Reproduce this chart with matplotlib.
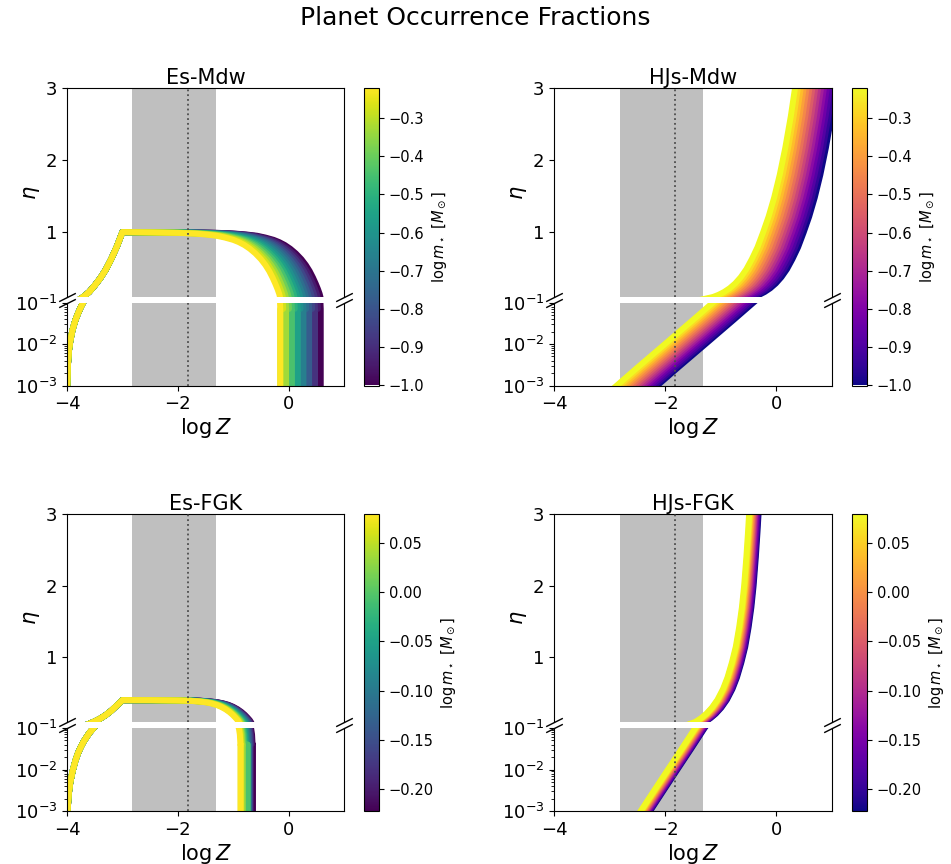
import numpy as np
import matplotlib
matplotlib.use('Agg')
import matplotlib.pyplot as plt
from matplotlib import colors, cm

# stellar masses (log m, Msun) of the drawn curves, low mass first
logm_mdw = [-1.0, -0.944, -0.889, -0.833, -0.778, -0.722, -0.667, -0.611,
            -0.556, -0.5, -0.444, -0.389, -0.333, -0.278, -0.222]
logm_fgk = [-0.222, -0.200, -0.179, -0.157, -0.136, -0.114, -0.093, -0.071,
            -0.050, -0.028, -0.007, 0.015, 0.036, 0.058, 0.079]
cbar_mdw = (-1.0, -0.2218)
cbar_fgk = (-0.2218, 0.0792)

# solar metallicity and the shaded range
logz_sun = -1.818
logz_band = (-2.818, -1.318)

# Es-Mdw, curve of the heaviest star: rising part (same for all masses) and fall-off
es_mdw_rise_z = [-3.998, -3.995, -3.985, -3.965, -3.94, -3.9, -3.85, -3.8, -3.75, -3.7,
                 -3.6, -3.5, -3.4, -3.3, -3.2, -3.1, -3.0]
es_mdw_rise_eta = [0.0005, 0.001, 0.003, 0.007, 0.012, 0.022, 0.037, 0.055, 0.078, 0.105,
                   0.17, 0.26, 0.36, 0.48, 0.63, 0.8, 1.0]
es_mdw_fall_z = [-2.5, -2.0, -1.7, -1.5, -1.3, -1.15, -1.0, -0.9, -0.8, -0.7, -0.6, -0.5,
                 -0.42, -0.35, -0.29, -0.24, -0.2, -0.17, -0.155, -0.15]
es_mdw_fall_eta = [0.996, 0.99, 0.98, 0.968, 0.95, 0.925, 0.893, 0.862, 0.822, 0.77, 0.705,
                   0.625, 0.545, 0.46, 0.37, 0.285, 0.21, 0.145, 0.1, 0.07]
es_mdw_shift = [0.73, 0.678, 0.626, 0.574, 0.521, 0.469, 0.417, 0.365,
                0.313, 0.261, 0.209, 0.156, 0.104, 0.052, 0.0]
es_mdw_drop = [0.58, 0.474, 0.474, 0.37, 0.37, 0.266, 0.266, 0.162,
               0.162, 0.058, 0.058, -0.046, -0.046, -0.15, -0.15]

# Es-FGK
es_fgk_rise_z = [-3.998, -3.99, -3.97, -3.94, -3.9, -3.85, -3.8, -3.75, -3.7,
                 -3.6, -3.5, -3.4, -3.3, -3.2, -3.1, -3.0]
es_fgk_rise_eta = [0.0005, 0.001, 0.0025, 0.005, 0.009, 0.016, 0.025, 0.035, 0.047,
                   0.075, 0.108, 0.148, 0.197, 0.258, 0.33, 0.405]
es_fgk_fall_z = [-2.5, -2.0, -1.8, -1.65, -1.5, -1.4, -1.3, -1.22, -1.14, -1.07, -1.01,
                 -0.96, -0.92, -0.895, -0.88, -0.87]
es_fgk_fall_eta = [0.404, 0.40, 0.396, 0.388, 0.375, 0.36, 0.338, 0.312, 0.278, 0.24, 0.2,
                   0.16, 0.125, 0.095, 0.07, 0.04]
es_fgk_shift = [0.22, 0.204, 0.189, 0.173, 0.157, 0.141, 0.126, 0.11,
                0.094, 0.079, 0.063, 0.047, 0.031, 0.016, 0.0]
es_fgk_drop = [-0.643, -0.68, -0.70, -0.70, -0.715, -0.715, -0.74, -0.74,
               -0.74, -0.74, -0.74, -0.83, -0.83, -0.865, -0.865]

# HJs-Mdw, curve of the heaviest star
hj_mdw_z = [-3.13, -2.87, -2.5, -2.0, -1.5, -1.14, -1.04, -0.94, -0.84, -0.74, -0.64,
            -0.54, -0.44, -0.34, -0.24, -0.14, -0.04, 0.06, 0.16, 0.26, 0.36, 0.46]
hj_mdw_eta = [0.0005, 0.001, 0.0027, 0.0101, 0.038, 0.1, 0.1303, 0.1698, 0.2213, 0.2884,
              0.3752, 0.4855, 0.628, 0.79, 0.995, 1.216, 1.48, 1.795, 2.17, 2.61, 3.13, 3.74]
hj_mdw_shift = [0.73, 0.678, 0.626, 0.574, 0.521, 0.469, 0.417, 0.365,
                0.313, 0.261, 0.209, 0.156, 0.104, 0.052, 0.0]

# HJs-FGK
hj_fgk_z = [-2.59, -2.44, -2.2, -1.95, -1.7, -1.46, -1.36, -1.26, -1.16, -1.06, -0.96,
            -0.88, -0.8, -0.73, -0.67, -0.62, -0.58, -0.54, -0.51, -0.48, -0.45]
hj_fgk_eta = [0.0005, 0.001, 0.0031, 0.01, 0.032, 0.1, 0.15, 0.215, 0.3, 0.41, 0.56,
              0.72, 0.93, 1.15, 1.42, 1.7, 2.0, 2.4, 2.75, 3.15, 3.6]
hj_fgk_shift = [0.17, 0.158, 0.146, 0.134, 0.121, 0.109, 0.097, 0.085,
                0.073, 0.061, 0.049, 0.036, 0.024, 0.012, 0.0]


def es_curves(rise_z, rise_eta, fall_z, fall_eta, shifts, drops):
    out = []
    for s, dz in zip(shifts, drops):
        x = list(rise_z) + [z + s for z in fall_z] + [dz, dz]
        y = list(rise_eta) + list(fall_eta) + [fall_eta[-1], 1e-6]
        out.append((x, y))
    return out


def hj_curves(zz, eta, shifts):
    return [([z + s for z in zz], list(eta)) for s in shifts]


W, H = 951, 864
fig = plt.figure(figsize=(W / 100, H / 100), dpi=100)
fig.suptitle('Planet Occurrence Fractions', fontsize=18, y=1 - 18 / H, va='center')


def px_axes(x0, x1, y0, y1):
    return fig.add_axes([x0 / W, 1 - y1 / H, (x1 - x0) / W, (y1 - y0) / H])


def panel(col_x, row_y, curves, logm, cmap, crange, title, cbar_ticks):
    x0, x1, cx0, cx1 = col_x
    top, mid1, mid2, bot = row_y
    ax_up = px_axes(x0, x1, top, mid1)
    ax_lo = px_axes(x0, x1, mid2, bot)
    cax = px_axes(cx0, cx1, top, bot)
    norm = colors.Normalize(*crange)
    for ax in (ax_up, ax_lo):
        ax.axvspan(*logz_band, color='#bfbfbf', lw=0, zorder=0)
        for (x, y), m in zip(curves, logm):
            ax.plot(x, y, color=cmap(norm(m)), lw=4.3, zorder=2)
        ax.axvline(logz_sun, color='0.3', ls=':', lw=1.3, zorder=3)
        ax.set_xlim(-4, 1)
        ax.tick_params(labelsize=13)
    ax_up.set_ylim(0.1, 3)
    ax_up.set_yticks([1, 2, 3])
    ax_up.spines['bottom'].set_visible(False)
    ax_up.tick_params(bottom=False, labelbottom=False)
    ax_lo.set_yscale('log')
    ax_lo.set_ylim(1e-3, 1e-1)
    ax_lo.spines['top'].set_visible(False)
    ax_lo.set_xticks([-4, -2, 0])
    ax_up.set_title(title, fontsize=15, pad=3)
    ax_up.set_ylabel(r'$\eta$', fontsize=15)
    ax_lo.set_xlabel(r'$\log Z$', fontsize=15, labelpad=2)
    ax_up.yaxis.set_label_coords(-0.09, 0.5)

    d = .5
    kw = dict(marker=[(-1, -d), (1, d)], markersize=12, linestyle='none',
              color='k', mec='k', mew=1, clip_on=False)
    ax_up.plot([0, 1], [0, 0], transform=ax_up.transAxes, **kw)
    ax_lo.plot([0, 1], [1, 1], transform=ax_lo.transAxes, **kw)

    sm = cm.ScalarMappable(norm=norm, cmap=cmap)
    cb = fig.colorbar(sm, cax=cax, ticks=cbar_ticks)
    cb.ax.tick_params(labelsize=10.5)
    cb.set_label(r'$\log m_\star\ [M_\odot]$', fontsize=10.5)


left = (67, 344, 364, 379)
right = (554, 832, 852, 867)
row1 = (88, 297, 302.5, 385.5)
row2 = (514, 722, 728, 811)
ticks_mdw = [-1.0, -0.9, -0.8, -0.7, -0.6, -0.5, -0.4, -0.3]
ticks_fgk = [-0.20, -0.15, -0.10, -0.05, 0.00, 0.05]

panel(left, row1, es_curves(es_mdw_rise_z, es_mdw_rise_eta, es_mdw_fall_z, es_mdw_fall_eta,
                            es_mdw_shift, es_mdw_drop),
      logm_mdw, plt.get_cmap('viridis'), cbar_mdw, 'Es-Mdw', ticks_mdw)
panel(right, row1, hj_curves(hj_mdw_z, hj_mdw_eta, hj_mdw_shift),
      logm_mdw, plt.get_cmap('plasma'), cbar_mdw, 'HJs-Mdw', ticks_mdw)
panel(left, row2, es_curves(es_fgk_rise_z, es_fgk_rise_eta, es_fgk_fall_z, es_fgk_fall_eta,
                            es_fgk_shift, es_fgk_drop),
      logm_fgk, plt.get_cmap('viridis'), cbar_fgk, 'Es-FGK', ticks_fgk)
panel(right, row2, hj_curves(hj_fgk_z, hj_fgk_eta, hj_fgk_shift),
      logm_fgk, plt.get_cmap('plasma'), cbar_fgk, 'HJs-FGK', ticks_fgk)

fig.savefig('out.png', dpi=100)
